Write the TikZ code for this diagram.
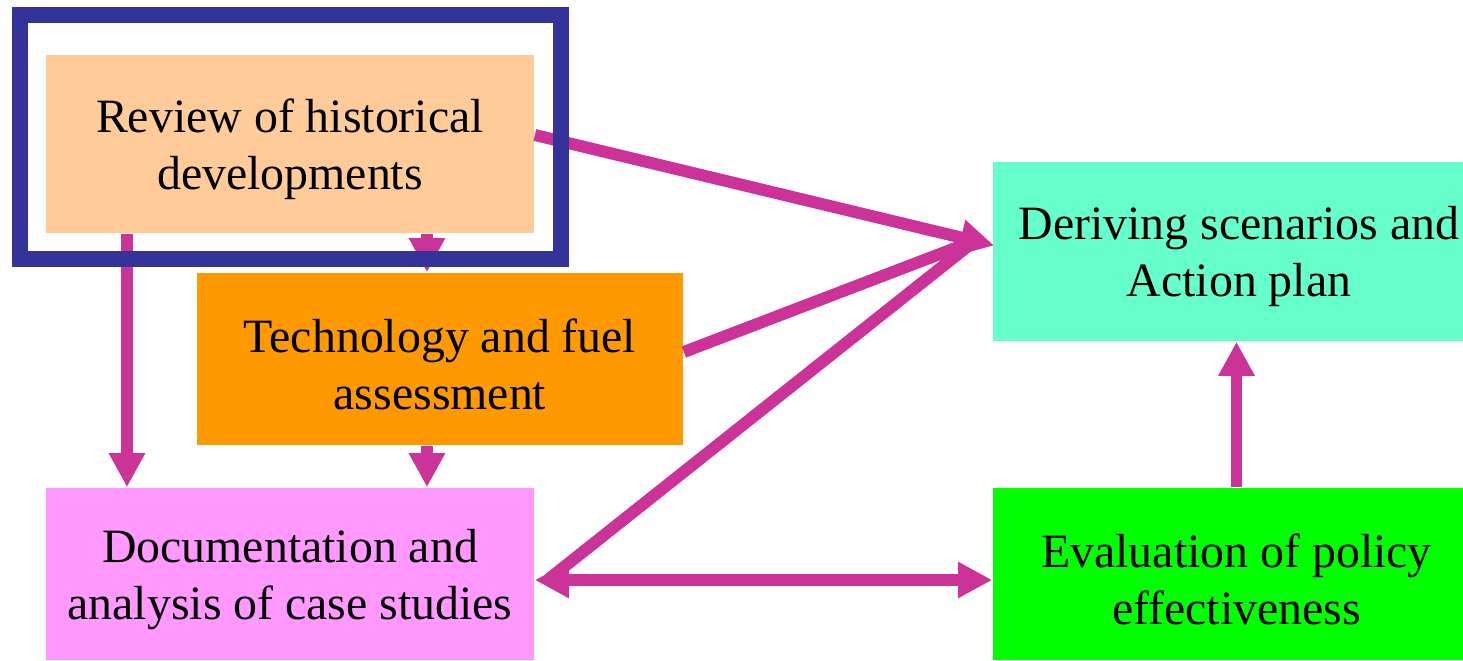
\documentclass[tikz,border=0pt]{standalone}
\usepackage{fontspec}
\setmainfont{Liberation Serif}
\usetikzlibrary{arrows.meta,calc}
\definecolor{peach}{HTML}{FFCC99}
\definecolor{amber}{HTML}{FF9900}
\definecolor{pinkish}{HTML}{FF99FF}
\definecolor{aqua}{HTML}{66FFCC}
\definecolor{lime}{HTML}{00FF00}
\definecolor{plum}{HTML}{CC3399}
\definecolor{navy}{HTML}{333399}
\begin{document}
\begin{tikzpicture}[x=0.01cm,y=-0.01cm,
    box/.style={inner sep=0pt, align=center, text height=28.6pt, font=\fontsize{13.6}{16.2}\selectfont},
    line/.style={draw=plum, line width=3.4pt},
    link/.style={line, -{Triangle[length=0.34cm,width=0.34cm]}},
    frame/.style={draw=navy, line width=0.165cm}]
    \useasboundingbox (0,0) rectangle (1463,661);
    % boxes
    \node[box, fill=peach, minimum width=4.88cm, minimum height=1.78cm] (review) at (290,144) {Review of historical\\developments};
    \node[box, fill=amber, minimum width=4.86cm, minimum height=1.72cm] (tech) at (440,359) {Technology and fuel\\assessment};
    \node[box, fill=pinkish, minimum width=4.88cm, minimum height=1.72cm] (docu) at (290,574) {Documentation and\\analysis of case studies};
    \node[box, fill=aqua, minimum width=4.92cm, minimum height=1.79cm] (deriv) at (1239,251.5) {Deriving scenarios and\\Action plan};
    \node[box, fill=lime, minimum width=4.87cm, minimum height=1.72cm] (evalu) at (1236.5,574) {Evaluation of policy\\effectiveness};
    % arrows
    \coordinate (a) at (127,0);
    \coordinate (b) at (427,0);
    \coordinate (hub) at ($(deriv.west)+(2,-6)$);
    \coordinate (join) at ($(hub)+(-19,-5)$);
    \draw[link] (review.south -| a) -- (docu.north -| a);
    \draw[link] (review.south -| b) -- (tech.north -| b);
    \draw[link] (tech.south -| b) -- (docu.north -| b);
    \draw[line] ($(tech.east)+(0,-7)$) -- (join);
    \draw[line] ($(docu.east)+(14,5)$) -- (join);
    \draw[link] ($(review.east)+(0,-9)$) -- (hub);
    \draw[link, {Triangle[length=0.34cm,width=0.34cm]}-{Triangle[length=0.34cm,width=0.34cm]}] ($(docu.east)+(0,6)$) -- ($(evalu.west)+(0,6)$);
    \draw[link] (evalu.north) -- (evalu.north |- deriv.south);
    % frame round the first box
    \draw[frame] (20,15) rectangle (561,259);
\end{tikzpicture}
\end{document}
